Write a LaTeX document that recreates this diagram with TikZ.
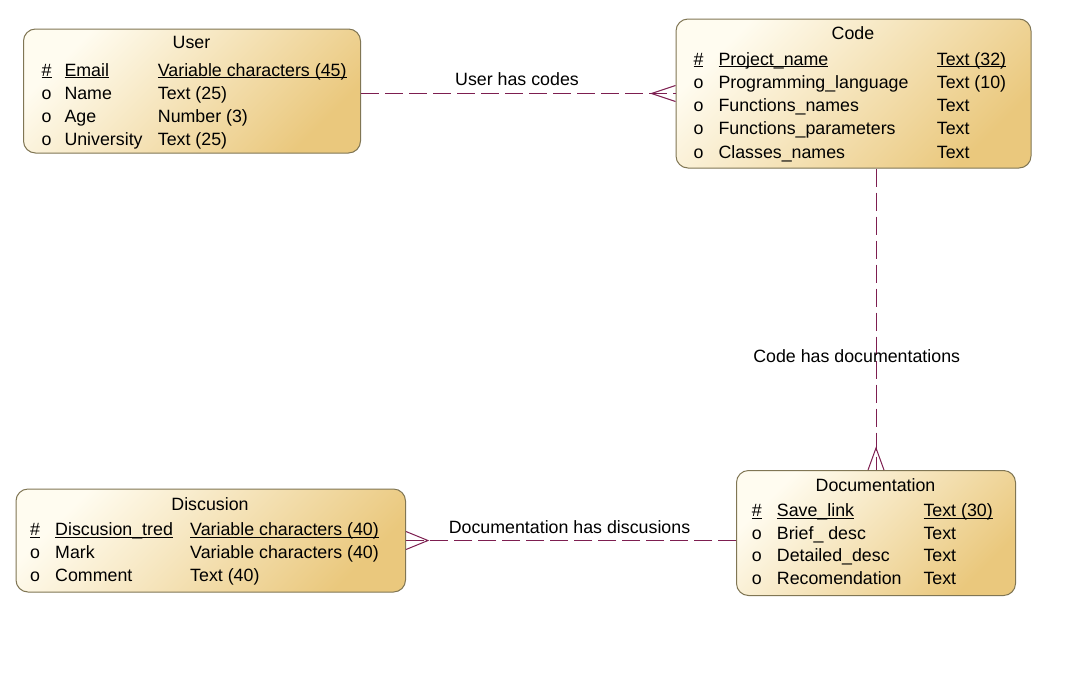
\documentclass[tikz,border=0pt]{standalone}
\usepackage{fontspec}
\setmainfont{Liberation Sans}
\usetikzlibrary{calc}
\definecolor{relc}{RGB}{125,30,80}
\definecolor{boxlight}{RGB}{255,252,240}
\definecolor{boxdark}{RGB}{234,200,125}
\definecolor{boxedge}{RGB}{128,118,84}
\newcommand\ulx[1]{$\underline{\smash{\hbox{#1}}}$}
\begin{document}
\begin{tikzpicture}[x=1pt,y=-1pt,font=\fontsize{17.8}{21}\selectfont,
  entity/.style={draw=boxedge, line width=1pt, rounded corners=12pt,
    top color=boxlight, bottom color=boxdark, shading angle=45,
    anchor=north west, inner sep=0pt},
  txt/.style={anchor=base west, inner sep=0pt},
  ttl/.style={anchor=base, inner sep=0pt},
  lbl/.style={anchor=base, inner sep=0pt},
  rel/.style={draw=relc, line width=1pt, dash pattern=on 18pt off 6pt},
  foot/.style={draw=relc, line width=1pt}]
\useasboundingbox (0,0) rectangle (1067,683);
\fill[white] (0,0) rectangle (1067,683);

% entities
\node[entity, minimum width=337pt, minimum height=124pt] (user) at (23,28.5) {};
\node[entity, minimum width=355pt, minimum height=149pt] (code) at (675.5,18.5) {};
\node[entity, minimum width=279pt, minimum height=125pt] (doc) at (736,470) {};
\node[entity, minimum width=389.5pt, minimum height=103pt] (disc) at (15.5,488.5) {};

% User
\node[ttl] (ut) at (191.5,48.5) {User};
\node[txt] (u1a) at (41.5,76) {\ulx{\#}};
\node[txt] (u1b) at (64.3,76) {\ulx{Email}};
\node[txt] (u1c) at (157.7,76) {\ulx{Variable characters (45)}};
\node[txt] (u2a) at (41.5,99) {o};
\node[txt] (u2b) at (64.3,99) {Name};
\node[txt] (u2c) at (157.7,99) {Text (25)};
\node[txt] (u3a) at (41.5,122) {o};
\node[txt] (u3b) at (64.3,122) {Age};
\node[txt] (u3c) at (157.7,122) {Number (3)};
\node[txt] (u4a) at (41.5,145) {o};
\node[txt] (u4b) at (64.3,145) {University};
\node[txt] (u4c) at (157.7,145) {Text (25)};

% Code
\node[ttl] (ct) at (853,39.5) {Code};
\node[txt] (c1a) at (693.3,65) {\ulx{\#}};
\node[txt] (c1b) at (718.3,65) {\ulx{Project\_name}};
\node[txt] (c1c) at (936.7,65) {\ulx{Text (32)}};
\node[txt] (c2a) at (693.3,88) {o};
\node[txt] (c2b) at (718.3,88) {Programming\_language};
\node[txt] (c2c) at (936.7,88) {Text (10)};
\node[txt] (c3a) at (693.3,111) {o};
\node[txt] (c3b) at (718.3,111) {Functions\_names};
\node[txt] (c3c) at (936.7,111) {Text};
\node[txt] (c4a) at (693.3,134.5) {o};
\node[txt] (c4b) at (718.3,134.5) {Functions\_parameters};
\node[txt] (c4c) at (936.7,134.5) {Text};
\node[txt] (c5a) at (693.3,158) {o};
\node[txt] (c5b) at (718.3,158) {Classes\_names};
\node[txt] (c5c) at (936.7,158) {Text};

% Documentation
\node[ttl] (dt) at (875.5,491) {Documentation};
\node[txt] (d1a) at (751.7,516.5) {\ulx{\#}};
\node[txt] (d1b) at (776.7,516.5) {\ulx{Save\_link}};
\node[txt] (d1c) at (923.3,516.5) {\ulx{Text (30)}};
\node[txt] (d2a) at (751.7,539.2) {o};
\node[txt] (d2b) at (776.7,539.2) {Brief\_ desc};
\node[txt] (d2c) at (923.3,539.2) {Text};
\node[txt] (d3a) at (751.7,561.8) {o};
\node[txt] (d3b) at (776.7,561.8) {Detailed\_desc};
\node[txt] (d3c) at (923.3,561.8) {Text};
\node[txt] (d4a) at (751.7,584.5) {o};
\node[txt] (d4b) at (776.7,584.5) {Recomendation};
\node[txt] (d4c) at (923.3,584.5) {Text};

% Discusion
\node[ttl] (st) at (210,510) {Discusion};
\node[txt] (s1a) at (30,535.5) {\ulx{\#}};
\node[txt] (s1b) at (55,535.5) {\ulx{Discusion\_tred}};
\node[txt] (s1c) at (190,535.5) {\ulx{Variable characters (40)}};
\node[txt] (s2a) at (30,558.6) {o};
\node[txt] (s2b) at (55,558.6) {Mark};
\node[txt] (s2c) at (190,558.6) {Variable characters (40)};
\node[txt] (s3a) at (30,581.7) {o};
\node[txt] (s3b) at (55,581.7) {Comment};
\node[txt] (s3c) at (190,581.7) {Text (40)};

% relationships
\draw[rel] (user.east |- code.west) -- (code.west);
\draw[foot] ($(code.west)+(0,-8)$) -- ($(code.west)+(-24,0)$) -- ($(code.west)+(0,8)$);
\node[lbl] (l1) at (517,85.7) {User has codes};

\draw[rel] (code.south -| doc.north) -- (doc.north);
\draw[foot] ($(doc.north)+(-8,0)$) -- ($(doc.north)+(0,-22)$) -- ($(doc.north)+(8,0)$);
\node[lbl] (l2) at (856.7,362.7) {Code has documentations};

\draw[rel] (doc.west |- disc.east) -- (disc.east);
\draw[foot] ($(disc.east)+(0,-9)$) -- ($(disc.east)+(22,0)$) -- ($(disc.east)+(0,9)$);
\node[lbl] (l3) at (569.5,533.5) {Documentation has discusions};
\end{tikzpicture}
\end{document}
